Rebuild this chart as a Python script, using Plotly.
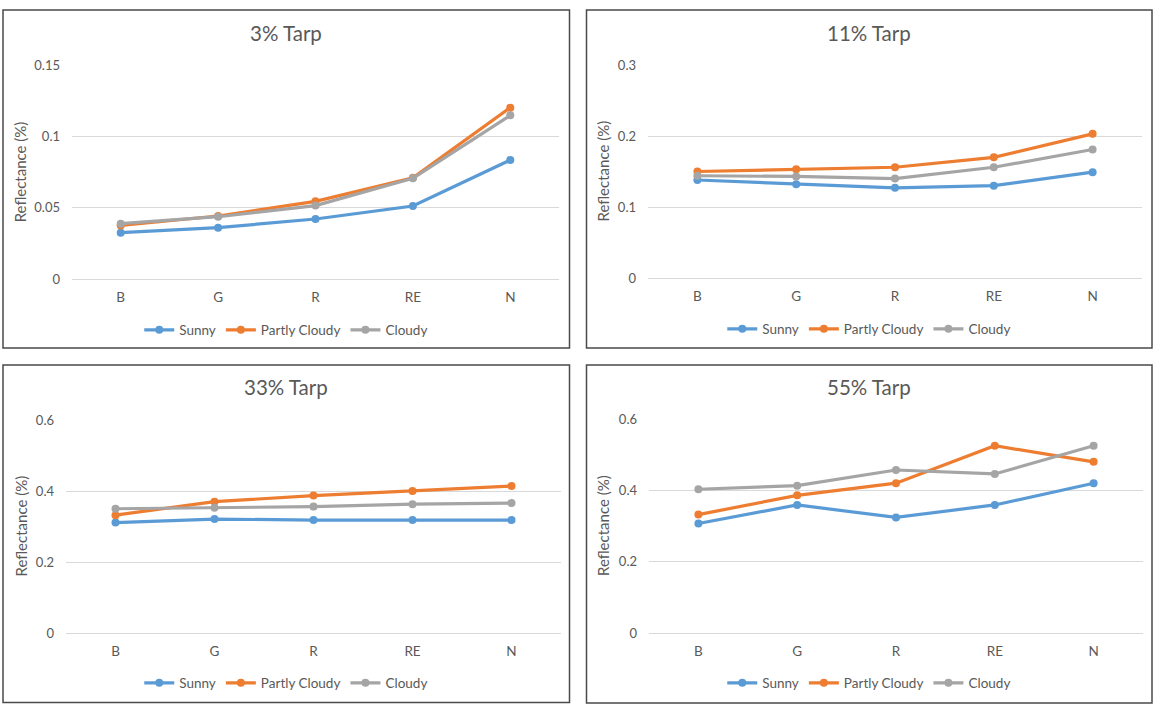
import plotly.graph_objects as go

W, H = 1172, 706

bands = ["B", "G", "R", "RE", "N"]
series_names = ["Sunny", "Partly Cloudy", "Cloudy"]
colors = ["#5B9BD5", "#ED7D31", "#A5A5A5"]

titles = ["3% Tarp", "11% Tarp", "33% Tarp", "55% Tarp"]

# 3% Tarp
tarp3_sunny = [0.0326, 0.0361, 0.0422, 0.0513, 0.0837]
tarp3_partly = [0.0377, 0.0443, 0.0546, 0.0712, 0.1205]
tarp3_cloudy = [0.0389, 0.0438, 0.0516, 0.0708, 0.1151]

# 11% Tarp
tarp11_sunny = [0.138, 0.132, 0.127, 0.130, 0.149]
tarp11_partly = [0.150, 0.153, 0.156, 0.170, 0.203]
tarp11_cloudy = [0.144, 0.143, 0.140, 0.156, 0.181]

# 33% Tarp
tarp33_sunny = [0.311, 0.321, 0.318, 0.318, 0.318]
tarp33_partly = [0.332, 0.370, 0.387, 0.400, 0.414]
tarp33_cloudy = [0.350, 0.353, 0.356, 0.363, 0.366]

# 55% Tarp
tarp55_sunny = [0.307, 0.359, 0.324, 0.359, 0.420]
tarp55_partly = [0.332, 0.386, 0.420, 0.525, 0.480]
tarp55_cloudy = [0.403, 0.413, 0.457, 0.446, 0.525]

y_max = [0.15, 0.3, 0.6, 0.6]
y_dtick = [0.05, 0.1, 0.2, 0.2]

panel_data = [
    [tarp3_sunny, tarp3_partly, tarp3_cloudy],
    [tarp11_sunny, tarp11_partly, tarp11_cloudy],
    [tarp33_sunny, tarp33_partly, tarp33_cloudy],
    [tarp55_sunny, tarp55_partly, tarp55_cloudy],
]

# layout geometry in pixels
frames = [(3, 10, 569.5, 348), (586.5, 10, 1152, 348),
          (3, 365, 569.5, 702.5), (586.5, 365, 1152, 703)]
plots = [(72, 65.7, 559, 279), (648, 65, 1142, 278),
         (66, 420, 561, 633), (649, 419, 1143, 633)]
title_y = [33, 33, 387, 387]
legend_y = [330, 329, 683, 683]
axis_title_x = [20, 602, 20, 603]

FONT = "Lato"
TXT = "#595959"


def px(x):
    return x / W


def py(y):
    return 1 - y / H


fig = go.Figure()
layout = dict(
    width=W, height=H, autosize=False,
    margin=dict(l=0, r=0, t=0, b=0, pad=0),
    paper_bgcolor="white", plot_bgcolor="white",
    font=dict(family=FONT, color=TXT),
    showlegend=True,
    shapes=[], annotations=[],
)

for i in range(4):
    ax = "" if i == 0 else str(i + 1)
    leg = "legend" if i == 0 else f"legend{i + 1}"
    for s in range(3):
        fig.add_trace(go.Scatter(
            x=bands, y=panel_data[i][s], name=series_names[s],
            mode="lines+markers",
            line=dict(color=colors[s], width=3.2),
            marker=dict(color=colors[s], size=8),
            xaxis="x" + ax, yaxis="y" + ax, legend=leg,
        ))
    x0, y0, x1, y1 = plots[i]
    layout["xaxis" + ax] = dict(
        domain=[px(x0), px(x1)], anchor="y" + ax,
        type="category", range=[-0.5, 4.5],
        showgrid=False, showline=False, zeroline=False, ticks="",
        tickfont=dict(size=13.5, color=TXT, family=FONT),
        ticklabelstandoff=8, automargin=False,
    )
    layout["yaxis" + ax] = dict(
        domain=[py(y1), py(y0)], anchor="x" + ax,
        range=[0, y_max[i]], dtick=y_dtick[i], tick0=0,
        showgrid=True, gridcolor="#D9D9D9", gridwidth=1,
        zeroline=True, zerolinecolor="#D9D9D9", zerolinewidth=1,
        showline=False, ticks="",
        tickfont=dict(size=13, color=TXT, family=FONT),
        ticklabelstandoff=11, automargin=False,
    )
    fx0, fy0, fx1, fy1 = frames[i]
    layout["shapes"].append(dict(
        type="rect", xref="paper", yref="paper",
        x0=px(fx0), x1=px(fx1), y0=py(fy1), y1=py(fy0),
        line=dict(color="#4a4a4a", width=1.5), fillcolor="rgba(0,0,0,0)",
    ))
    cx = (fx0 + fx1) / 2
    layout["annotations"].append(dict(
        text=titles[i], xref="paper", yref="paper",
        x=px(cx), y=py(title_y[i]), xanchor="center", yanchor="middle",
        showarrow=False, font=dict(size=20.5, color=TXT, family=FONT),
    ))
    layout["annotations"].append(dict(
        text="Reflectance (%)", xref="paper", yref="paper",
        x=px(axis_title_x[i]), y=py((y0 + y1) / 2), textangle=-90,
        xanchor="center", yanchor="middle",
        showarrow=False, font=dict(size=15, color=TXT, family=FONT),
    ))
    layout[leg] = dict(
        orientation="h", x=px(cx), y=py(legend_y[i]),
        xanchor="center", yanchor="middle",
        font=dict(size=13.5, color=TXT, family=FONT),
        bgcolor="rgba(0,0,0,0)", itemwidth=30,
        tracegroupgap=0,
    )

fig.update_layout(**layout)
fig.write_html(
    "out.html",
    config={"displayModeBar": False, "responsive": False},
    post_script="document.body.style.margin='0';document.body.style.overflow='hidden';",
)
